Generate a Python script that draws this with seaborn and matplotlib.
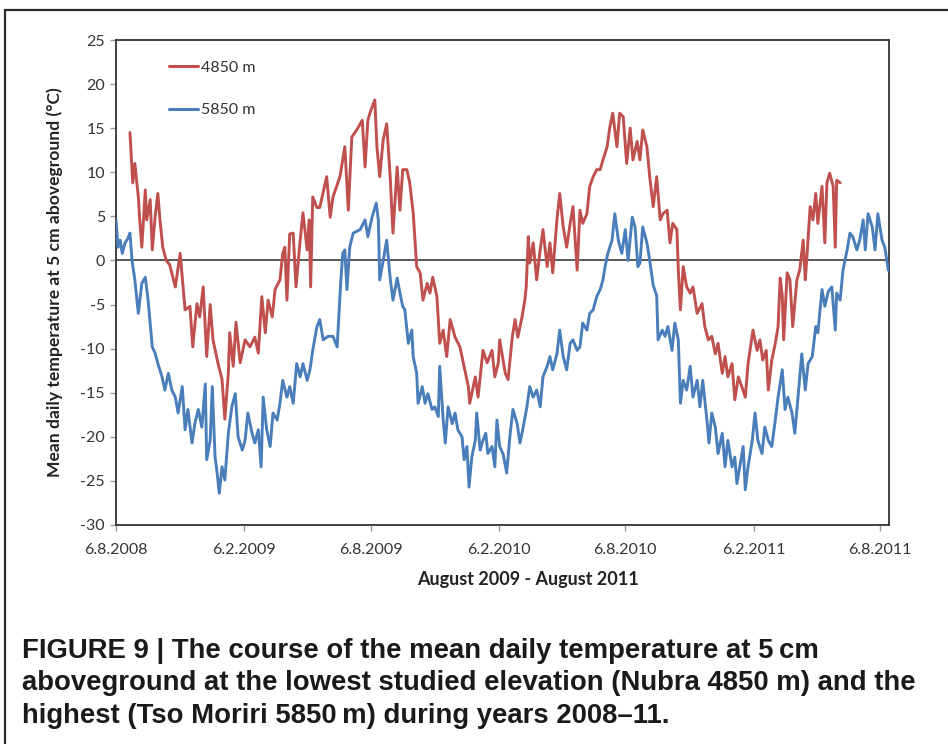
import pandas as pd
import matplotlib
matplotlib.use("Agg")
import matplotlib.pyplot as plt
from matplotlib.patches import Rectangle
from matplotlib.lines import Line2D
import seaborn as sns

# Day offsets from the first logger day (6 Aug 2008) and mean daily temperature (°C)
START = "2008-08-06"

red_days = [
    20, 24, 27, 32, 34, 37, 42, 44, 49, 52,
    56, 60, 63, 67, 72, 77, 85, 92, 99, 106,
    110, 116, 120, 125, 130, 135, 139, 146, 152, 156,
    161, 163, 168, 172, 178, 185, 192, 199, 204, 209,
    214, 218, 224, 228, 235, 239, 242, 245, 249, 254,
    258, 264, 268, 274, 277, 279, 282, 288, 292, 302,
    307, 311, 321, 328, 333, 338, 345, 353, 357, 361,
    364, 367, 371, 374, 378, 383, 388, 393, 397, 403,
    407, 411, 417, 421, 426, 431, 436, 440, 446, 450,
    454, 460, 464, 469, 474, 479, 486, 493, 500, 505,
    507, 515, 519, 526, 532, 539, 543, 548, 550, 558,
    562, 568, 572, 576, 582, 586, 588, 591, 593, 598,
    603, 608, 612, 618, 622, 626, 632, 636, 641, 646,
    651, 655, 661, 665, 669, 675, 679, 684, 689, 694,
    698, 704, 708, 712, 718, 722, 727, 732, 737, 741,
    747, 751, 755, 761, 765, 770, 775, 780, 784, 790,
    794, 798, 804, 806, 809, 813, 818, 823, 827, 833,
    840, 844, 849, 854, 859, 863, 869, 873, 877, 883,
    887, 892, 897, 902, 906, 913, 919, 923, 927, 932,
    935, 940, 945, 949, 952, 955, 957, 962, 966, 970,
    976, 980, 985, 988, 990, 995, 999, 1003, 1006, 1012,
    1016, 1019, 1023, 1028, 1031, 1033, 1038,
]
red_temp = [
    14.5, 8.8, 11, 7.2, 4.6, 1.5, 8, 4.6, 6.9, 1.2,
    4.9, 7.6, 4.6, 1.5, 0, -0.5, -3, 0.8, -5.6, -5.2,
    -9.8, -4.9, -6.4, -3, -10.9, -5, -9, -11.6, -13.5, -18,
    -12.8, -8.2, -12, -7, -11.6, -9, -9.8, -8.7, -10.5, -4.1,
    -8.2, -4.5, -6.4, -3.3, -2.2, 0.8, 1.5, -4.5, 3, 3.1,
    -3, 2.3, 5.4, 1.2, 4.6, -3, 7.2, 6, 6, 9.5,
    4.9, 7.2, 9.5, 12.9, 5.7, 14, 14.8, 15.9, 10.6, 15.9,
    16.7, 17.4, 18.2, 12.9, 9.5, 13.7, 15.5, 9.5, 3.1, 10.6,
    5.7, 10.3, 10.3, 8.8, 5.4, -0.7, -1.4, -4.5, -2.6, -3.7,
    -1.9, -4.1, -9.4, -7.9, -10.9, -6.7, -8.7, -9.8, -12.4, -14.3,
    -16.2, -13.2, -15.5, -10.2, -11.6, -10.2, -13.2, -11.6, -9, -12.8,
    -13.5, -8.7, -6.7, -8.7, -6.4, -4.5, -3, 2.7, -0.3, 2,
    -2.2, 1.2, 3.5, -0.7, 2, -1.4, 4.6, 7.6, 3.8, 1.5,
    4.2, 6.1, -1.1, 5.7, 4.2, 5.3, 8.4, 9.5, 10.3, 10.3,
    11.4, 12.9, 15.2, 16.7, 12.9, 16.7, 16.3, 11, 15, 11.4,
    13.5, 11.4, 14.8, 12.9, 9.5, 6.1, 9.5, 4.6, 5.3, 5.7,
    2, 4.2, 3.5, -1.1, -5.6, -0.7, -3, -3.7, -3, -6,
    -4.9, -7.5, -9, -8.6, -10.6, -9.4, -12.8, -10.9, -13.2, -11.7,
    -15.8, -13.2, -14.3, -15.5, -11.7, -7.9, -10.2, -9, -11.3, -10.2,
    -14.7, -11.3, -9.4, -7.5, -2, -4, -9, -1.4, -2.2, -7.5,
    -2.2, -1.1, 2.3, -2.2, 0, 6.1, 4.6, 7.6, 4.2, 8.4,
    2, 8.8, 9.9, 8.4, 1.5, 9.1, 8.8,
]

blue_days = [
    0, 3, 6, 9, 13, 17, 20, 23, 27, 32,
    37, 42, 46, 52, 56, 60, 66, 70, 75, 80,
    85, 89, 95, 99, 103, 109, 113, 118, 123, 128,
    130, 135, 138, 142, 145, 148, 152, 156, 161, 166,
    171, 175, 181, 185, 189, 195, 199, 204, 208, 211,
    216, 221, 225, 231, 235, 239, 245, 249, 254, 259,
    264, 268, 274, 278, 282, 288, 292, 297, 304, 311,
    317, 322, 325, 328, 331, 335, 340, 350, 357, 361,
    367, 373, 376, 378, 383, 388, 393, 397, 403, 407,
    411, 414, 419, 424, 426, 431, 433, 439, 443, 447,
    453, 457, 462, 464, 469, 472, 476, 482, 486, 490,
    496, 499, 503, 506, 510, 515, 517, 522, 526, 530,
    533, 539, 543, 546, 550, 555, 560, 565, 569, 575,
    579, 583, 589, 593, 598, 603, 608, 612, 618, 622,
    626, 632, 636, 641, 646, 651, 655, 661, 665, 669,
    675, 679, 684, 689, 694, 698, 701, 705, 711, 715,
    720, 725, 730, 734, 740, 744, 748, 751, 755, 761,
    765, 770, 775, 777, 783, 787, 791, 797, 801, 806,
    809, 813, 818, 823, 827, 833, 837, 841, 847, 850,
    854, 859, 863, 869, 873, 877, 883, 887, 890, 894,
    899, 902, 906, 912, 916, 920, 926, 930, 935, 940,
    945, 949, 955, 959, 963, 969, 973, 978, 983, 988,
    992, 998, 1003, 1006, 1012, 1016, 1021, 1026, 1031, 1033,
    1038, 1042, 1048, 1052, 1056, 1062, 1066, 1071, 1074, 1078,
    1084, 1088, 1092, 1098, 1102, 1107,
]
blue_temp = [
    4.6, 1.5, 2.3, 0.8, 2, 2.5, 3.1, 0, -2.2, -6,
    -2.6, -1.9, -4.5, -9.8, -10.5, -11.7, -13.2, -14.7, -12.8, -14.7,
    -15.5, -17.3, -14.3, -19.2, -16.9, -20.7, -18.5, -16.9, -18.9, -14,
    -22.6, -20.4, -14.3, -22.3, -24.1, -26.4, -23.4, -24.9, -19.6, -16.6,
    -15.1, -20, -21.5, -20.4, -17.3, -19.6, -20.7, -19.2, -23.4, -15.5,
    -19.2, -21.1, -17.3, -18.1, -16.2, -13.6, -15.5, -14.3, -16.2, -11.7,
    -13.2, -11.7, -13.6, -12.4, -10.2, -7.5, -6.7, -9, -8.6, -8.6,
    -9.8, -2.6, 0.8, 1.2, -3.3, 1.5, 3.1, 3.5, 4.6, 2.7,
    4.9, 6.5, 4.6, -2.2, 0, 2.3, -2, -4.5, -2, -3.7,
    -5.2, -5.6, -9.4, -7.9, -10.9, -12.8, -16.2, -14.3, -16.2, -15.1,
    -16.9, -16.6, -17.7, -12, -18.1, -20.7, -16.6, -18.5, -17.3, -19.2,
    -20, -22.6, -21.1, -25.7, -22.3, -20.4, -17.3, -21.5, -20.4, -19.6,
    -21.9, -21.1, -23.4, -18.1, -21.1, -22, -24.1, -19.6, -16.9, -18.5,
    -20.7, -19.2, -16.6, -14.3, -15.5, -14.7, -16.6, -13.2, -12, -10.9,
    -12.4, -10.6, -7.9, -10.9, -12.4, -9.4, -9, -10.2, -9.8, -7.1,
    -7.9, -6, -5.6, -4.1, -3.3, -2.2, -0.7, 0.8, 2.3, 5.3,
    2.3, 0.8, 3.5, 0, 4.9, 3.8, -0.7, -0.3, 3.8, 2,
    0, -2.8, -4, -9, -7.9, -8.6, -7.5, -10.2, -7.1, -9,
    -16.2, -13.6, -14.7, -12, -15.5, -13.6, -16.6, -13.6, -18.1, -20.7,
    -17.3, -18.9, -21.9, -19.6, -23.4, -20.4, -23.4, -22.3, -25.3, -23.4,
    -21.1, -26, -23.4, -20.4, -17.3, -20.4, -21.9, -18.9, -20.4, -21.1,
    -18.1, -15.5, -12.4, -16.9, -15.5, -17.3, -19.6, -15.1, -10.6, -14.7,
    -11.7, -10.9, -7.5, -8.2, -3.3, -5.2, -3.5, -3, -7.9, -3.7,
    -4.5, -1.1, 1.2, 3.1, 2.7, 1.2, 2.3, 4.6, 1.2, 5.3,
    3.8, 1.2, 5.3, 2.3, 1.5, -1.1,
]

series_names = ["4850 m", "5850 m"]
series_colors = ["#C0504D", "#4A7EBB"]

tick_dates = ["2008-08-06", "2009-02-06", "2009-08-06", "2010-02-06",
              "2010-08-06", "2011-02-06", "2011-08-06"]
tick_labels = ["6.8.2008", "6.2.2009", "6.8.2009", "6.2.2010",
               "6.8.2010", "6.2.2011", "6.8.2011"]
y_ticks = [-30, -25, -20, -15, -10, -5, 0, 5, 10, 15, 20, 25]

x_title = "August 2009 - August 2011"
y_title = "Mean daily temperature at 5 cm aboveground (°C)"
caption = [
    "FIGURE 9 | The course of the mean daily temperature at 5\u2009cm",
    "aboveground at the lowest studied elevation (Nubra 4850 m) and the",
    "highest (Tso Moriri 5850\u2009m) during years 2008\u201311.",
]

sns.set_theme(style="white")
plt.rcParams["font.family"] = ["Lato", "DejaVu Sans"]
plt.rcParams["axes.unicode_minus"] = False

start = pd.Timestamp(START)
frames = []
for name, days, temp in zip(series_names, [red_days, blue_days], [red_temp, blue_temp]):
    frames.append(pd.DataFrame({
        "date": start + pd.to_timedelta(days, unit="D"),
        "temp": temp,
        "site": name,
    }))
df = pd.concat(frames, ignore_index=True)

W, H = 948, 744
fig = plt.figure(figsize=(W / 100, H / 100), dpi=100)
fig.patch.set_facecolor("white")

# outer figure frame (open to the right and bottom)
fig.add_artist(Rectangle((5 / W, -0.05), 1.2, 1.05 - 10 / H, transform=fig.transFigure,
                         fill=False, edgecolor="#2b2b2b", lw=1.6, clip_on=False))

ax = fig.add_axes([116 / W, 1 - 525 / H, 773 / W, 485 / H])
ax.set_facecolor("white")
ax.axhline(0, color="#3c3c3c", lw=1.2, zorder=1)

sns.lineplot(data=df, x="date", y="temp", hue="site", hue_order=series_names,
             palette=series_colors, sort=False, estimator=None, linewidth=2.1,
             legend=False, ax=ax, zorder=3)

ax.set_xlim(start, start + pd.Timedelta(days=1108))
ax.set_ylim(-30, 25)
ax.set_yticks(y_ticks)
ax.set_xticks(pd.to_datetime(tick_dates))
ax.set_xticklabels(tick_labels)
ax.set_xlabel("")
ax.set_ylabel("")

for side in ["left", "bottom", "top", "right"]:
    ax.spines[side].set_visible(True)
    ax.spines[side].set_color("#333333")
    ax.spines[side].set_linewidth(1.3)

ax.tick_params(axis="both", which="major", direction="out", length=4, width=1,
               color="#9a9a9a", labelsize=11.5, labelcolor="#333333", pad=4,
               bottom=True, left=True)
ax.tick_params(axis="x", pad=9)

handles = [Line2D([0], [0], color=c, lw=2.2) for c in series_colors]
leg = ax.legend(handles, series_names, loc="upper left", bbox_to_anchor=(0.068, 0.958),
                frameon=False, handlelength=1.85, handletextpad=0.15, labelspacing=1.8,
                fontsize=11.5, borderaxespad=0, borderpad=0)
for t in leg.get_texts():
    t.set_color("#333333")

fig.text(55 / W, 1 - 282.5 / H, y_title, rotation=90, ha="center", va="center",
         fontsize=12.6, fontweight="bold", color="#222222")
fig.text(528 / W, 1 - 579 / H, x_title, ha="center", va="center",
         fontsize=13, fontweight="bold", color="#222222")

cap_font = ["Liberation Sans", "DejaVu Sans"]
for i, line in enumerate(caption):
    fig.text(22 / W, 1 - (658 + 32.5 * i) / H, line, ha="left", va="baseline",
             fontsize=19.8, fontweight="bold", color="#1a1a1a", family=cap_font)

fig.savefig("out.png", dpi=100, facecolor="white")
